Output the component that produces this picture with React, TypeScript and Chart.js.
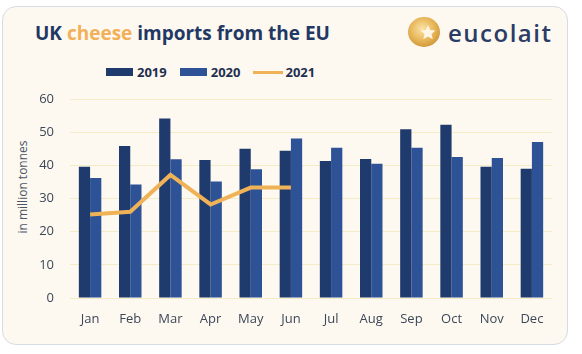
import React, { useEffect, useRef } from "react";
import { Chart, registerables } from "chart.js";

Chart.register(...registerables);

const months = ["Jan", "Feb", "Mar", "Apr", "May", "Jun", "Jul", "Aug", "Sep", "Oct", "Nov", "Dec"];
const values2019 = [39.6, 45.8, 54.1, 41.6, 45.0, 44.4, 41.3, 41.9, 50.9, 52.2, 39.6, 39.0];
const values2020 = [36.2, 34.2, 41.8, 35.1, 38.8, 48.1, 45.3, 40.5, 45.3, 42.5, 42.2, 47.0];
const values2021 = [25.2, 26.0, 37.1, 28.2, 33.3, 33.3, null, null, null, null, null, null];
const yTicks = [0, 10, 20, 30, 40, 50, 60];
const seriesNames = ["2019", "2020", "2021"];
const yTitle = "in million tonnes";

const C2019 = "#1f3a6d";
const C2020 = "#2d5396";
const C2021 = "#efb257";
const FONT = "'Open Sans', 'Noto Sans', sans-serif";

export default function App() {
  const ref = useRef<HTMLCanvasElement>(null);

  useEffect(() => {
    document.body.style.margin = "0";
    document.body.style.background = "#ffffff";
    const ctx = ref.current!.getContext("2d")!;
    const chart = new Chart(ctx, {
      type: "bar",
      data: {
        labels: months,
        datasets: [
          {
            type: "line",
            label: seriesNames[2],
            data: values2021,
            borderColor: C2021,
            backgroundColor: C2021,
            borderWidth: 4,
            pointRadius: 0,
            tension: 0,
            order: 0,
          },
          {
            label: seriesNames[0],
            data: values2019,
            backgroundColor: C2019,
            categoryPercentage: 0.56,
            barPercentage: 1,
            order: 1,
          },
          {
            label: seriesNames[1],
            data: values2020,
            backgroundColor: C2020,
            categoryPercentage: 0.56,
            barPercentage: 1,
            order: 1,
          },
        ] as any,
      },
      options: {
        animation: false,
        responsive: false,
        maintainAspectRatio: false,
        layout: { padding: { left: 10, right: 30, top: 99, bottom: 16 } },
        plugins: { legend: { display: false }, tooltip: { enabled: false } },
        scales: {
          x: {
            grid: { display: false, drawTicks: false },
            border: { display: false },
            ticks: { color: "#3d4759", font: { family: FONT, size: 13 }, padding: 13 },
            afterFit: (s: any) => {
              s.height = 40;
            },
          },
          y: {
            min: 0,
            max: 60,
            afterBuildTicks: (s: any) => {
              s.ticks = yTicks.map((v) => ({ value: v }));
            },
            grid: { color: "#f5ebc6", lineWidth: 1, drawTicks: false },
            border: { display: false },
            ticks: { color: "#3d4759", font: { family: FONT, size: 13 }, padding: 16 },
            afterFit: (s: any) => {
              s.width = 60;
            },
          },
        },
      },
    });
    return () => chart.destroy();
  }, []);

  const legendItems = [
    { name: seriesNames[0], color: C2019, kind: "box" },
    { name: seriesNames[1], color: C2020, kind: "box" },
    { name: seriesNames[2], color: C2021, kind: "line" },
  ];

  return (
    <div style={{ position: "relative", width: 582, height: 354, background: "#fff", overflow: "hidden" }}>
      <div
        style={{
          position: "absolute",
          left: 2,
          top: 6,
          width: 564,
          height: 337,
          border: "1px solid #d6dce3",
          borderRadius: 14,
          background: "#fdf9f0",
        }}
      />
      <div
        style={{
          position: "absolute",
          left: 35,
          top: 18.5,
          fontFamily: FONT,
          fontWeight: 700,
          fontSize: 19,
          color: "#1f3864",
          whiteSpace: "nowrap",
          lineHeight: "28px",
        }}
      >
        UK <span style={{ color: "#f2b05a" }}>cheese</span> imports from the EU
      </div>
      <svg style={{ position: "absolute", left: 407, top: 16 }} width={36} height={32} viewBox="0 0 36 32">
        <defs>
          <radialGradient id="g" cx="45%" cy="40%" r="60%">
            <stop offset="0%" stopColor="#fbe3a8" />
            <stop offset="60%" stopColor="#e9b85c" />
            <stop offset="100%" stopColor="#d19a3c" />
          </radialGradient>
        </defs>
        <ellipse cx="17" cy="16" rx="16" ry="15" fill="url(#g)" />
        <polygon
          points="21,9 23.2,14 28.5,14.5 24.5,18 25.8,23.2 21,20.5 16.2,23.2 17.5,18 13.5,14.5 18.8,14"
          fill="#fdf6e4"
        />
      </svg>
      <div
        style={{
          position: "absolute",
          left: 448,
          top: 15.5,
          fontFamily: FONT,
          fontWeight: 600,
          fontSize: 24,
          color: "#2b3c66",
          lineHeight: "34px",
          letterSpacing: 1.5,
          whiteSpace: "nowrap",
        }}
      >
        eucolait
      </div>
      <div
        style={{
          position: "absolute",
          left: 106,
          top: 63,
          display: "flex",
          alignItems: "center",
          fontFamily: FONT,
          fontWeight: 700,
          fontSize: 13,
          color: "#1f2f50",
          lineHeight: "18px",
        }}
      >
        {legendItems.map((it, i) => (
          <div key={i} style={{ display: "flex", alignItems: "center", marginRight: 13 }}>
            {it.kind === "box" ? (
              <span style={{ display: "inline-block", width: 27, height: 8, background: it.color, marginRight: 4 }} />
            ) : (
              <span style={{ display: "inline-block", width: 30, height: 3, background: it.color, marginRight: 2 }} />
            )}
            <span>{it.name}</span>
          </div>
        ))}
      </div>
      <div
        style={{
          position: "absolute",
          left: 23,
          top: 187,
          width: 0,
          height: 0,
        }}
      >
        <div
          style={{
            position: "absolute",
            left: 0,
            top: 0,
            transform: "translate(-50%, -50%) rotate(-90deg)",
            fontFamily: FONT,
            fontSize: 12,
            color: "#4a5568",
            whiteSpace: "nowrap",
            lineHeight: "16px",
          }}
        >
          {yTitle}
        </div>
      </div>
      <canvas ref={ref} width={582} height={354} style={{ position: "absolute", left: 0, top: 0 }} />
    </div>
  );
}
